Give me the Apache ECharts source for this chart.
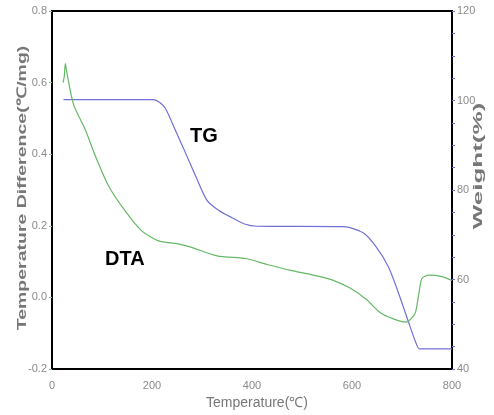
<!DOCTYPE html>
<html><head><meta charset="utf-8">
<script src="https://cdn.jsdelivr.net/npm/echarts@6/dist/echarts.min.js"></script>
<style>html,body{margin:0;padding:0;background:#fff}#c{width:494px;height:415px}</style>
</head><body><div id="c"></div>
<script>
const xTicks = [0, 200, 400, 600, 800];
const leftTicks = [-0.2, 0.0, 0.2, 0.4, 0.6, 0.8];
const rightTicks = [40, 60, 80, 100, 120];
const tgTemp =   [23, 203, 215, 227, 247, 263, 287, 310, 333, 360, 385, 410, 583, 623, 649, 673, 693, 713, 727, 735, 800];
const tgWeight = [100.2, 100.2, 99.6, 98.2, 93.3, 89.3, 83.2, 77.7, 75.5, 73.8, 72.4, 71.9, 71.8, 70.4, 67.2, 62.8, 57.0, 50.5, 46.1, 44.5, 44.5];
const dtaTemp =  [22, 24.6, 26.6, 30, 43, 67, 87, 113, 147, 180, 213, 250, 276, 330, 390, 430, 480, 520, 560, 596, 629, 656, 683, 708, 718, 727, 735, 740, 753, 780, 800];
const dtaValue = [0.60, 0.617, 0.653, 0.625, 0.539, 0.467, 0.394, 0.312, 0.240, 0.185, 0.158, 0.150, 0.141, 0.116, 0.108, 0.092, 0.075, 0.063, 0.049, 0.026, -0.006, -0.042, -0.060, -0.069, -0.060, -0.042, 0.022, 0.053, 0.062, 0.058, 0.047];
const labels = { tg: 'TG', dta: 'DTA', x: 'Temperature(℃)', left: 'Temperature Difference(℃/mg)', right: 'Weight(%)' };

const chart = echarts.init(document.getElementById('c'));
const gray = '#8a8a8a';
chart.setOption({
  animation: false,
  grid: { left: 52, right: 42, top: 11, bottom: 37, show: true, borderColor: '#000', borderWidth: 2, backgroundColor: 'transparent' },
  xAxis: {
    type: 'value', min: xTicks[0], max: xTicks[xTicks.length-1], interval: 200,
    axisLine: { show: true, onZero: false, lineStyle: { color: '#000', width: 2 } },
    axisTick: { show: false },
    splitLine: { show: false },
    axisLabel: { color: gray, fontSize: 11, fontFamily: 'Liberation Sans', margin: 11 },
    name: labels.x, nameLocation: 'middle', nameGap: 27,
    nameTextStyle: { color: '#777', fontSize: 14, fontFamily: 'Liberation Sans', padding: [0,0,0,10] }
  },
  yAxis: [{
    type: 'value', min: -0.2, max: 0.8, interval: 0.2, position: 'left',
    axisLine: { show: true, onZero: false, lineStyle: { color: '#000', width: 2 } },
    axisTick: { show: true, length: 3, lineStyle: { color: '#7cc47c' } },
    splitLine: { show: false },
    axisLabel: { color: gray, fontSize: 11, fontFamily: 'Liberation Sans', margin: 5, formatter: v => v.toFixed(1) }
  }, {
    type: 'value', min: 40, max: 120, interval: 20, position: 'right',
    axisLine: { show: true, onZero: false, lineStyle: { color: '#000', width: 2 } },
    axisTick: { show: true, length: 3, lineStyle: { color: '#6f6fd0' } },
    minorTick: { show: true, splitNumber: 4, length: 3, lineStyle: { color: '#6f6fd0' } },
    splitLine: { show: false },
    axisLabel: { color: gray, fontSize: 11, fontFamily: 'Liberation Sans', margin: 5 }
  }],
  graphic: [
    { type: 'text', left: 190, top: 126, style: { text: labels.tg, font: 'bold 20px "Liberation Sans"', fill: '#000' } },
    { type: 'text', left: 105, top: 249, style: { text: labels.dta, font: 'bold 20px "Liberation Sans"', fill: '#000' } },
    { type: 'text', x: 22, y: 188, rotation: Math.PI/2, scaleX: 1.5, scaleY: 1,
      style: { text: labels.left, font: 'bold 13px "Liberation Sans"', fill: '#777', align: 'center', verticalAlign: 'middle' } },
    { type: 'text', x: 478, y: 166, rotation: Math.PI/2, scaleX: 2.0, scaleY: 1.05,
      style: { text: labels.right, font: 'bold 13px "Liberation Sans"', fill: '#777', align: 'center', verticalAlign: 'middle' } }
  ],
  series: [{
    type: 'line', yAxisIndex: 1, showSymbol: false, smooth: 0.25,
    lineStyle: { color: '#7070d8', width: 1.2 },
    data: tgTemp.map((t, i) => [t, tgWeight[i]])
  }, {
    type: 'line', yAxisIndex: 0, showSymbol: false, smooth: 0.25,
    lineStyle: { color: '#66b866', width: 1.2 },
    data: dtaTemp.map((t, i) => [t, dtaValue[i]])
  }]
});
</script></body></html>
